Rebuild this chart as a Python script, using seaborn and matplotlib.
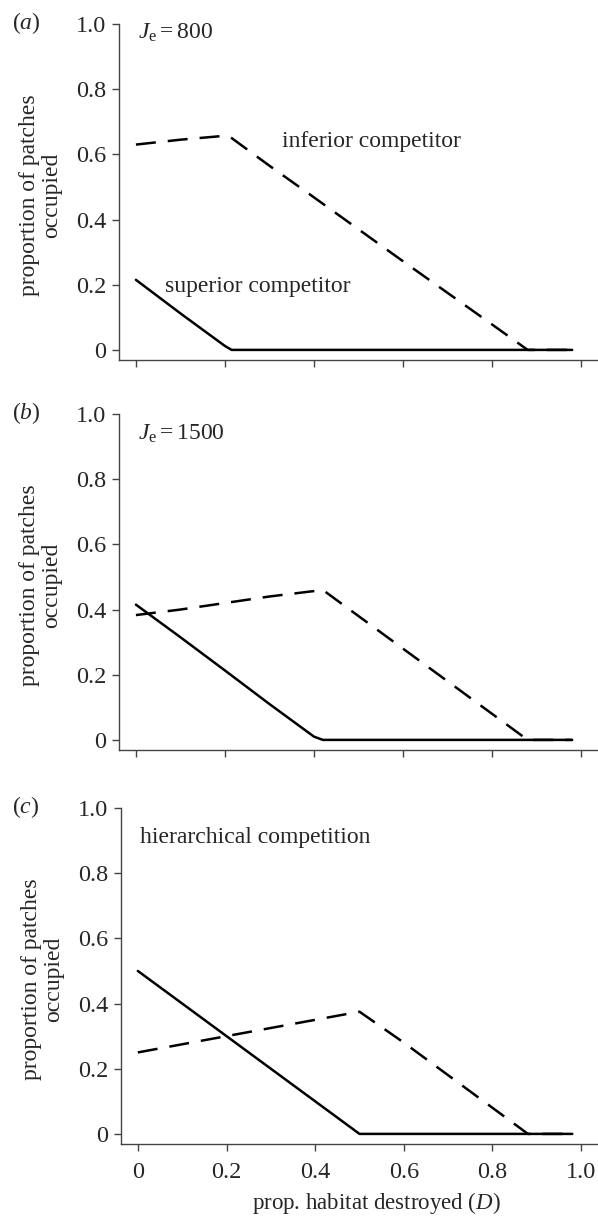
import numpy as np
import pandas as pd
import matplotlib
matplotlib.use("Agg")
import matplotlib.pyplot as plt
import seaborn as sns

# values (prop. habitat destroyed D -> prop. patches occupied)
# panel (a), Je = 800
d_sup_a = [0.0, 0.1, 0.2, 0.215, 0.5, 0.98]
sup_a = [0.215, 0.112, 0.012, 0.0, 0.0, 0.0]
d_inf_a = [0.0, 0.1, 0.2, 0.21, 0.3, 0.4, 0.5, 0.6, 0.7, 0.8, 0.88, 0.98]
inf_a = [0.63, 0.645, 0.657, 0.655, 0.565, 0.468, 0.37, 0.272, 0.175, 0.078, 0.0, 0.0]

# panel (b), Je = 1500
d_sup_b = [0.0, 0.1, 0.2, 0.3, 0.4, 0.42, 0.7, 0.98]
sup_b = [0.415, 0.315, 0.213, 0.11, 0.01, 0.0, 0.0, 0.0]
d_inf_b = [0.0, 0.1, 0.2, 0.3, 0.42, 0.5, 0.6, 0.7, 0.8, 0.88, 0.98]
inf_b = [0.383, 0.40, 0.42, 0.44, 0.46, 0.38, 0.28, 0.18, 0.08, 0.0, 0.0]

# panel (c), hierarchical competition
d_sup_c = [0.0, 0.1, 0.2, 0.3, 0.4, 0.5, 0.75, 0.98]
sup_c = [0.5, 0.4, 0.3, 0.2, 0.1, 0.0, 0.0, 0.0]
d_inf_c = [0.0, 0.1, 0.2, 0.3, 0.4, 0.5, 0.6, 0.7, 0.8, 0.88, 0.98]
inf_c = [0.25, 0.275, 0.30, 0.325, 0.35, 0.375, 0.28, 0.18, 0.08, 0.0, 0.0]

panel_letters = ["a", "b", "c"]
panel_notes = [r"$J_{\mathrm{e}}=800$", r"$J_{\mathrm{e}}=1500$", "hierarchical competition"]
note_y = [0.972, 0.94, 0.91]
ticks = [0, 0.2, 0.4, 0.6, 0.8, 1.0]
tick_labels = ["0", "0.2", "0.4", "0.6", "0.8", "1.0"]

sns.set_style("ticks")
plt.rcParams["font.family"] = ["Liberation Serif", "DejaVu Serif"]
plt.rcParams["mathtext.fontset"] = "custom"
plt.rcParams["mathtext.rm"] = "Liberation Serif"
plt.rcParams["mathtext.it"] = "Liberation Serif:italic"

W, H = 598, 1218
fig = plt.figure(figsize=(W / 100, H / 100), dpi=100)

# axes boxes in pixels: left, top, bottom
boxes = [(119, 24, 360), (119, 414, 750), (121, 808, 1144)]
data = [(d_sup_a, sup_a, d_inf_a, inf_a),
        (d_sup_b, sup_b, d_inf_b, inf_b),
        (d_sup_c, sup_c, d_inf_c, inf_c)]

fs = 17.5
fs_txt = 17
spine_col = "#444444"
for i, ((l, t, b), (xs, ys, xi, yi)) in enumerate(zip(boxes, data)):
    ax = fig.add_axes([l / W, 1 - b / H, (W - l) / W, (b - t) / H])
    sup = pd.DataFrame({"D": xs, "p": ys})
    inf = pd.DataFrame({"D": xi, "p": yi})
    sns.lineplot(data=inf, x="D", y="p", ax=ax, color="black", lw=1.8,
                 linestyle=(0, (8, 4.8)), sort=False)
    sns.lineplot(data=sup, x="D", y="p", ax=ax, color="black", lw=1.8, sort=False)
    ax.set_xlim(-0.038, 1.038)
    ax.set_ylim(-0.031, 1.0)
    ax.set_xticks(ticks)
    ax.set_yticks(ticks)
    ax.set_yticklabels(tick_labels, fontsize=fs)
    if i == 2:
        ax.set_xticklabels(tick_labels, fontsize=fs)
        ax.set_xlabel(r"prop. habitat destroyed ($\mathit{D}$)", fontsize=16.5)
        ax.xaxis.set_label_coords(0.535, -0.138)
    else:
        ax.set_xticklabels([])
        ax.set_xlabel("")
    ax.tick_params(axis="both", length=5, width=1, color=spine_col, pad=4)
    ax.tick_params(axis="x", pad=8)
    for s in ["top", "right"]:
        ax.spines[s].set_visible(False)
    for s in ["left", "bottom"]:
        ax.spines[s].set_color(spine_col)
        ax.spines[s].set_linewidth(1.0)
    ax.set_ylabel("proportion of patches\noccupied", fontsize=fs_txt, linespacing=1.05)
    ax.yaxis.set_label_coords(-0.119, 0.49)
    ax.text(0.005, note_y[i], panel_notes[i], fontsize=fs_txt, ha="left", va="center")
    fig.text(12 / W, 1 - (t - 1) / H, "(" + r"$\mathit{" + panel_letters[i] + "}$" + ")",
             fontsize=fs_txt, ha="left", va="center")
    if i == 0:
        ax.text(0.328, 0.638, "inferior competitor", fontsize=fs_txt, ha="left", va="center")
        ax.text(0.065, 0.193, "superior competitor", fontsize=fs_txt, ha="left", va="center")

fig.savefig("out.png", dpi=100)
